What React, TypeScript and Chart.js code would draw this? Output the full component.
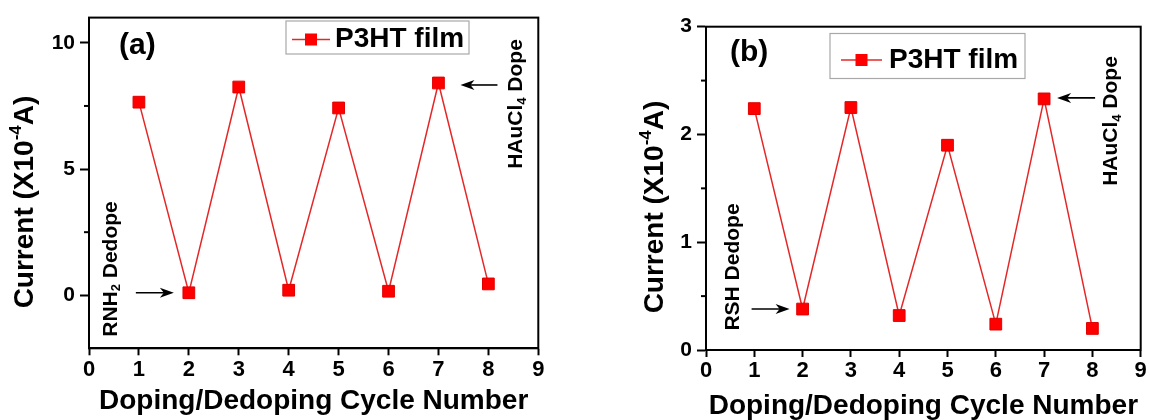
import React, { useEffect, useRef } from "react";
import { Chart, registerables } from "chart.js";

Chart.register(...registerables);

// ---------- data ----------
const cycles = [1, 2, 3, 4, 5, 6, 7, 8];
const currentA = [7.65, 0.1, 8.25, 0.2, 7.42, 0.16, 8.41, 0.45];
const currentB = [2.24, 0.38, 2.25, 0.32, 1.9, 0.24, 2.33, 0.2];
const xTicks = [0, 1, 2, 3, 4, 5, 6, 7, 8, 9];
const yMajorA = [0, 5, 10];
const yMinorA = [2.5, 7.5];
const yMajorB = [0, 1, 2, 3];
const yMinorB = [0.5, 1.5, 2.5];
const seriesName = "P3HT film";
const xTitle = "Doping/Dedoping Cycle Number";
const yTitleParts = [{ t: "Current (X10" }, { t: "-4", sup: true }, { t: "A)" }];
const dedopeA = [{ t: "RNH" }, { t: "2", sub: true }, { t: " Dedope" }];
const dedopeB = [{ t: "RSH Dedope" }];
const dopeParts = [{ t: "HAuCl" }, { t: "4", sub: true }, { t: " Dope" }];

const FAMILY = '"Liberation Sans", Arial, Helvetica, sans-serif';
const RED = "#ff0000";
const LINE_RED = "rgb(228,40,40)";

type Part = { t: string; sub?: boolean; sup?: boolean };

function drawRich(
  ctx: CanvasRenderingContext2D,
  parts: Part[],
  size: number,
  weight: string,
  cx: number,
  cy: number,
  rotated: boolean
) {
  ctx.save();
  ctx.translate(cx, cy);
  if (rotated) ctx.rotate(-Math.PI / 2);
  const fonts = parts.map(
    (p) => `${weight} ${p.sub || p.sup ? Math.round(size * 0.62) : size}px ${FAMILY}`
  );
  let total = 0;
  const widths = parts.map((p, i) => {
    ctx.font = fonts[i];
    const w = ctx.measureText(p.t).width;
    total += w;
    return w;
  });
  let x = -total / 2;
  ctx.textBaseline = "middle";
  ctx.textAlign = "left";
  ctx.fillStyle = "#000";
  parts.forEach((p, i) => {
    ctx.font = fonts[i];
    const dy = p.sub ? size * 0.28 : p.sup ? -size * 0.3 : 0;
    ctx.fillText(p.t, x, dy);
    x += widths[i];
  });
  ctx.restore();
}

function arrow(ctx: CanvasRenderingContext2D, x1: number, x2: number, y: number) {
  const dir = x2 > x1 ? 1 : -1;
  ctx.save();
  ctx.strokeStyle = "#000";
  ctx.fillStyle = "#000";
  ctx.lineWidth = 1.6;
  ctx.beginPath();
  ctx.moveTo(x1, y);
  ctx.lineTo(x2 - dir * 6, y);
  ctx.stroke();
  ctx.beginPath();
  ctx.moveTo(x2, y);
  ctx.lineTo(x2 - dir * 14, y - 5);
  ctx.lineTo(x2 - dir * 10, y);
  ctx.lineTo(x2 - dir * 14, y + 5);
  ctx.closePath();
  ctx.fill();
  ctx.restore();
}

type PanelCfg = {
  values: number[];
  yMin: number;
  yMax: number;
  yMajor: number[];
  yMinor: number[];
  padding: { left: number; right: number; top: number; bottom: number };
  label: string;
  labelPos: [number, number];
  yTitlePos: [number, number];
  xTitleBase: number;
  legend: { x: number; y: number; w: number; h: number; l1: number; l2: number; cy: number; tx: number };
  dedope: Part[];
  dedopePos: [number, number];
  dedopeArrow: [number, number];
  dopePos: [number, number];
  dopeArrow: [number, number];
  dopeArrowDy: number;
};

const panels: PanelCfg[] = [
  {
    values: currentA,
    yMin: -2.1,
    yMax: 11,
    yMajor: yMajorA,
    yMinor: yMinorA,
    padding: { left: 29, right: 36.7, top: 13.3, bottom: 31.7 },
    label: "(a)",
    labelPos: [119, 46],
    yTitlePos: [25, 202],
    xTitleBase: 409,
    legend: { x: 286, y: 21, w: 183, h: 33, l1: 292, l2: 330, cy: 39.5, tx: 335 },
    dedope: dedopeA,
    dedopePos: [111, 269],
    dedopeArrow: [-53, -15],
    dopePos: [516.5, 104],
    dopeArrow: [59, 22],
    dopeArrowDy: 2,
  },
  {
    values: currentB,
    yMin: 0,
    yMax: 3,
    yMajor: yMajorB,
    yMinor: yMinorB,
    padding: { left: 71, right: 6.5, top: 26.7, bottom: 30 },
    label: "(b)",
    labelPos: [155, 53],
    yTitlePos: [80, 207],
    xTitleBase: 414,
    legend: { x: 255, y: 33.5, w: 195, h: 45, l1: 266, l2: 307, cy: 60, tx: 314 },
    dedope: dedopeB,
    dedopePos: [158, 267],
    dedopeArrow: [-51, -13],
    dopePos: [536.5, 121],
    dopeArrow: [51, 13],
    dopeArrowDy: -1,
  },
];

function makeDecor(p: PanelCfg) {
  return {
    id: "decor",
    afterDraw(chart: any) {
      const ctx: CanvasRenderingContext2D = chart.ctx;
      const a = chart.chartArea;
      const xs = chart.scales.x;
      const ys = chart.scales.y;
      ctx.save();
      // frame
      ctx.strokeStyle = "#000";
      ctx.lineWidth = 2;
      ctx.strokeRect(a.left, a.top, a.right - a.left, a.bottom - a.top);
      // minor ticks
      p.yMinor.forEach((v) => {
        const y = ys.getPixelForValue(v);
        ctx.beginPath();
        ctx.moveTo(a.left - 5, y);
        ctx.lineTo(a.left, y);
        ctx.stroke();
      });
      // panel label
      ctx.fillStyle = "#000";
      ctx.font = `bold 30px ${FAMILY}`;
      ctx.textAlign = "left";
      ctx.textBaseline = "middle";
      ctx.fillText(p.label, p.labelPos[0], p.labelPos[1]);
      // axis titles
      ctx.font = `bold 28px ${FAMILY}`;
      ctx.textAlign = "center";
      ctx.textBaseline = "alphabetic";
      ctx.fillText(xTitle, (a.left + a.right) / 2, p.xTitleBase);
      drawRich(ctx, yTitleParts, 28, "bold", p.yTitlePos[0], p.yTitlePos[1], true);
      // legend
      const L = p.legend;
      ctx.strokeStyle = "#a8a8a8";
      ctx.lineWidth = 1.2;
      ctx.strokeRect(L.x, L.y, L.w, L.h);
      ctx.strokeStyle = LINE_RED;
      ctx.lineWidth = 1.6;
      ctx.beginPath();
      ctx.moveTo(L.l1, L.cy);
      ctx.lineTo(L.l2, L.cy);
      ctx.stroke();
      ctx.fillStyle = RED;
      const mx = (L.l1 + L.l2) / 2;
      ctx.fillRect(mx - 6, L.cy - 6, 12, 12);
      ctx.fillStyle = "#000";
      ctx.font = `bold 28px ${FAMILY}`;
      ctx.textAlign = "left";
      ctx.textBaseline = "middle";
      ctx.fillText(seriesName, L.tx, L.cy);
      // annotations
      drawRich(ctx, p.dedope, 21, "bold", p.dedopePos[0], p.dedopePos[1], true);
      drawRich(ctx, dopeParts, 21, "bold", p.dopePos[0], p.dopePos[1], true);
      const p2x = xs.getPixelForValue(cycles[1]);
      const p2y = ys.getPixelForValue(p.values[1]);
      arrow(ctx, p2x + p.dedopeArrow[0], p2x + p.dedopeArrow[1], p2y);
      const p7x = xs.getPixelForValue(cycles[6]);
      const p7y = ys.getPixelForValue(p.values[6]);
      arrow(ctx, p7x + p.dopeArrow[0], p7x + p.dopeArrow[1], p7y + p.dopeArrowDy);
      ctx.restore();
    },
  };
}

function Panel({ cfg, left }: { cfg: PanelCfg; left: number }) {
  const ref = useRef<HTMLCanvasElement | null>(null);
  useEffect(() => {
    if (!ref.current) return;
    const chart = new Chart(ref.current, {
      type: "line",
      data: {
        datasets: [
          {
            label: seriesName,
            data: cycles.map((c, i) => ({ x: c, y: cfg.values[i] })),
            borderColor: LINE_RED,
            borderWidth: 1.5,
            pointStyle: "rect",
            pointRadius: 8.3,
            pointBackgroundColor: RED,
            pointBorderColor: "rgb(225,0,0)",
            pointBorderWidth: 1,
            tension: 0,
            fill: false,
          },
        ],
      },
      options: {
        responsive: false,
        animation: false,
        devicePixelRatio: 1,
        layout: { padding: cfg.padding },
        plugins: { legend: { display: false }, tooltip: { enabled: false } },
        scales: {
          x: {
            type: "linear",
            min: 0,
            max: 9,
            afterBuildTicks: (s: any) => {
              s.ticks = xTicks.map((v) => ({ value: v }));
            },
            afterFit: (s: any) => {
              s.height = 40;
            },
            ticks: {
              color: "#000",
              font: { family: FAMILY, size: 22, weight: "bold" },
              padding: 1,
              maxRotation: 0,
              autoSkip: false,
            },
            grid: { drawOnChartArea: false, drawTicks: true, tickLength: 7, tickWidth: 2, tickColor: "#000" },
            border: { display: true, color: "#000", width: 2 },
          },
          y: {
            type: "linear",
            min: cfg.yMin,
            max: cfg.yMax,
            afterBuildTicks: (s: any) => {
              s.ticks = cfg.yMajor.map((v) => ({ value: v }));
            },
            afterFit: (s: any) => {
              s.width = 60;
            },
            ticks: {
              color: "#000",
              font: { family: FAMILY, size: 21, weight: "bold" },
              padding: 5,
              autoSkip: false,
            },
            grid: { drawOnChartArea: false, drawTicks: true, tickLength: 9, tickWidth: 2, tickColor: "#000" },
            border: { display: true, color: "#000", width: 2 },
          },
        },
      },
      plugins: [makeDecor(cfg)],
    } as any);
    return () => chart.destroy();
  }, [cfg]);
  return (
    <canvas
      ref={ref}
      width={575}
      height={420}
      style={{ position: "absolute", left, top: 0, width: 575, height: 420 }}
    />
  );
}

export default function App() {
  return (
    <div style={{ position: "fixed", left: 0, top: 0, width: 1150, height: 420, background: "#fff", overflow: "hidden" }}>
      <Panel cfg={panels[0]} left={0} />
      <Panel cfg={panels[1]} left={575} />
    </div>
  );
}
